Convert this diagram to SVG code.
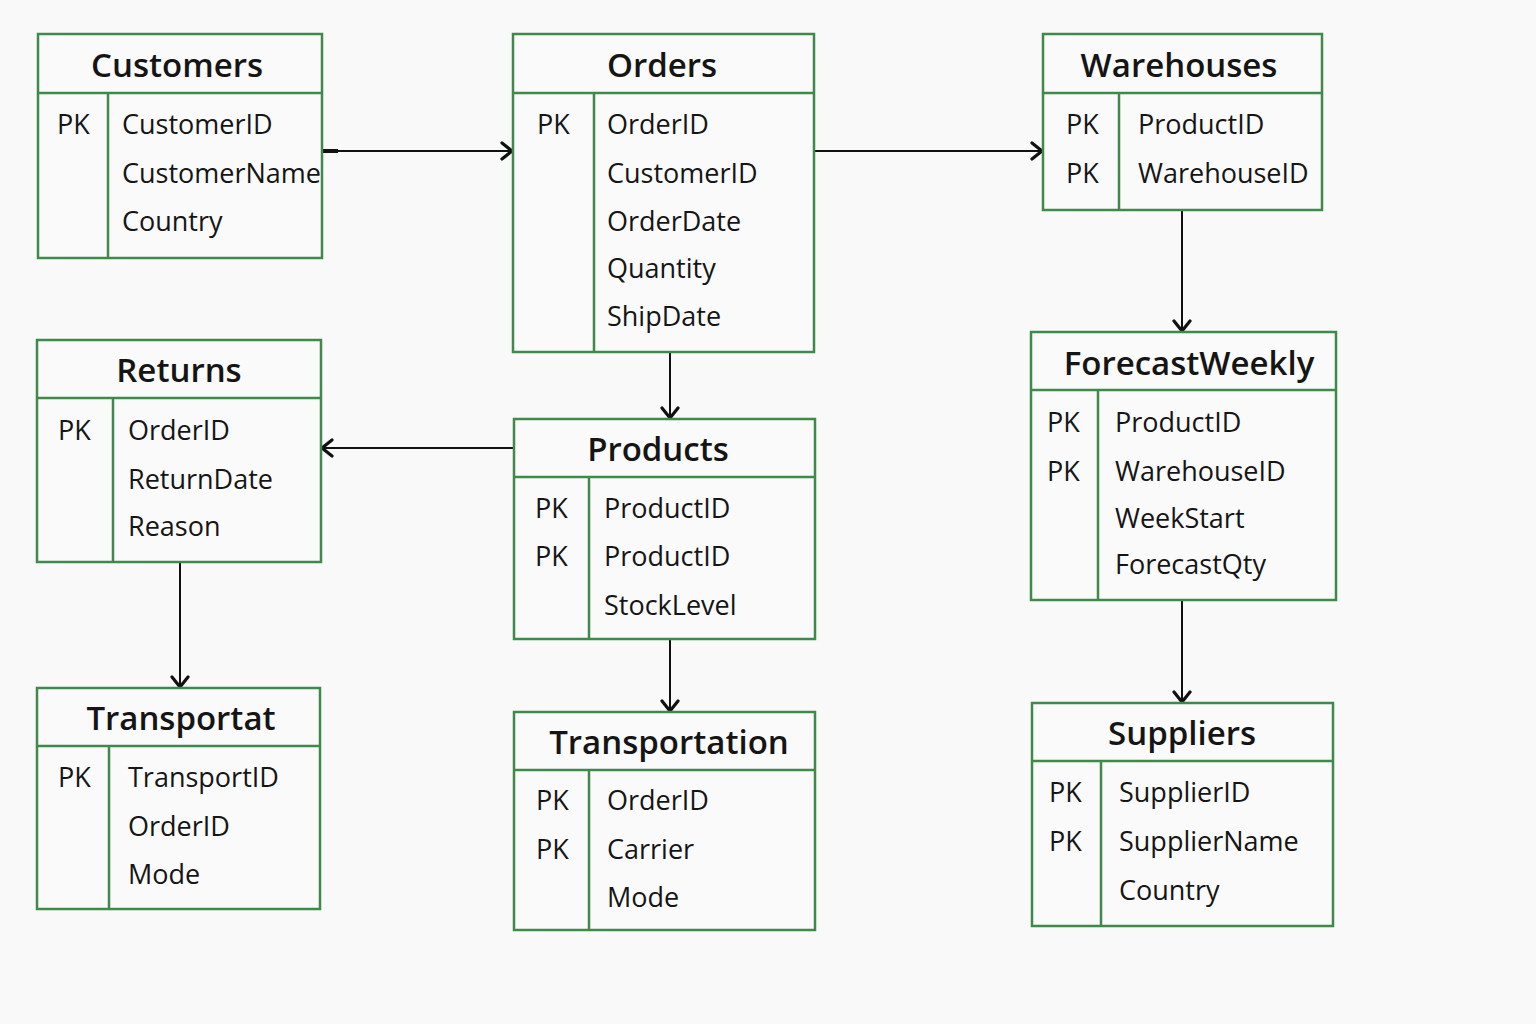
<svg xmlns="http://www.w3.org/2000/svg" width="1536" height="1024" viewBox="0 0 1536 1024">
<defs>
<marker id="arr" viewBox="0 0 14 20" refX="12" refY="10" markerWidth="14" markerHeight="20" markerUnits="userSpaceOnUse" orient="auto">
<path d="M2,2 L12,10 L2,18" fill="none" stroke="#111" stroke-width="3.2" stroke-linecap="round" stroke-linejoin="round"/>
</marker>
</defs>
<style>
.box{fill:#fafafa;stroke:#3f8a4a;stroke-width:2.5}
.ln{stroke:#3f8a4a;stroke-width:2.5}
.t{font-family:"Open Sans","Noto Sans",sans-serif;font-size:33px;font-weight:600;fill:#151515;text-anchor:middle}
.f{font-family:"Open Sans","Noto Sans",sans-serif;font-size:27px;fill:#151515}
.c{stroke:#111;stroke-width:2;fill:none;marker-end:url(#arr)}
</style>
<rect width="1536" height="1024" fill="#f9f9f9"/>
<g id="connectors">
<path class="c" d="M322,151 L512,151"/>
<path d="M322,151 L338,151" stroke="#111" stroke-width="4"/>
<path class="c" d="M814,151 L1042,151"/>
<path class="c" d="M1182,210 L1182,331"/>
<path class="c" d="M670,352 L670,418"/>
<path class="c" d="M514,448 L322,448"/>
<path class="c" d="M180,562 L180,687"/>
<path class="c" d="M670,639 L670,711"/>
<path class="c" d="M1182,600 L1182,702"/>
</g>
<g id="customers">
<rect class="box" x="38" y="34" width="284" height="224"/>
<line class="ln" x1="38" y1="93" x2="322" y2="93"/>
<line class="ln" x1="108" y1="93" x2="108" y2="258"/>
<text class="t" x="177" y="77">Customers</text>
<text class="f" x="57" y="134">PK</text>
<text class="f" x="122" y="134">CustomerID</text>
<text class="f" x="122" y="183">CustomerName</text>
<text class="f" x="122" y="231">Country</text>
</g>
<g id="orders">
<rect class="box" x="513" y="34" width="301" height="318"/>
<line class="ln" x1="513" y1="93" x2="814" y2="93"/>
<line class="ln" x1="594" y1="93" x2="594" y2="352"/>
<text class="t" x="662" y="77">Orders</text>
<text class="f" x="537" y="134">PK</text>
<text class="f" x="607" y="134">OrderID</text>
<text class="f" x="607" y="183">CustomerID</text>
<text class="f" x="607" y="231">OrderDate</text>
<text class="f" x="607" y="278">Quantity</text>
<text class="f" x="607" y="326">ShipDate</text>
</g>
<g id="warehouses">
<rect class="box" x="1043" y="34" width="279" height="176"/>
<line class="ln" x1="1043" y1="93" x2="1322" y2="93"/>
<line class="ln" x1="1119" y1="93" x2="1119" y2="210"/>
<text class="t" x="1179" y="77">Warehouses</text>
<text class="f" x="1066" y="134">PK</text>
<text class="f" x="1066" y="183">PK</text>
<text class="f" x="1138" y="134">ProductID</text>
<text class="f" x="1138" y="183">WarehouseID</text>
</g>
<g id="forecastweekly">
<rect class="box" x="1031" y="332" width="305" height="268"/>
<line class="ln" x1="1031" y1="390" x2="1336" y2="390"/>
<line class="ln" x1="1098" y1="390" x2="1098" y2="600"/>
<text class="t" x="1189" y="375">ForecastWeekly</text>
<text class="f" x="1047" y="432">PK</text>
<text class="f" x="1047" y="481">PK</text>
<text class="f" x="1115" y="432">ProductID</text>
<text class="f" x="1115" y="481">WarehouseID</text>
<text class="f" x="1115" y="528">WeekStart</text>
<text class="f" x="1115" y="574">ForecastQty</text>
</g>
<g id="returns">
<rect class="box" x="37" y="340" width="284" height="222"/>
<line class="ln" x1="37" y1="398" x2="321" y2="398"/>
<line class="ln" x1="113" y1="398" x2="113" y2="562"/>
<text class="t" x="179" y="382">Returns</text>
<text class="f" x="58" y="440">PK</text>
<text class="f" x="128" y="440">OrderID</text>
<text class="f" x="128" y="489">ReturnDate</text>
<text class="f" x="128" y="536">Reason</text>
</g>
<g id="products">
<rect class="box" x="514" y="419" width="301" height="220"/>
<line class="ln" x1="514" y1="477" x2="815" y2="477"/>
<line class="ln" x1="589" y1="477" x2="589" y2="639"/>
<text class="t" x="658" y="461">Products</text>
<text class="f" x="535" y="518">PK</text>
<text class="f" x="535" y="566">PK</text>
<text class="f" x="604" y="518">ProductID</text>
<text class="f" x="604" y="566">ProductID</text>
<text class="f" x="604" y="615">StockLevel</text>
</g>
<g id="transportat">
<rect class="box" x="37" y="688" width="283" height="221"/>
<line class="ln" x1="37" y1="746" x2="320" y2="746"/>
<line class="ln" x1="109" y1="746" x2="109" y2="909"/>
<text class="t" x="181" y="730">Transportat</text>
<text class="f" x="58" y="787">PK</text>
<text class="f" x="128" y="787">TransportID</text>
<text class="f" x="128" y="836">OrderID</text>
<text class="f" x="128" y="884">Mode</text>
</g>
<g id="transportation">
<rect class="box" x="514" y="712" width="301" height="218"/>
<line class="ln" x1="514" y1="770" x2="815" y2="770"/>
<line class="ln" x1="589" y1="770" x2="589" y2="930"/>
<text class="t" x="669" y="754">Transportation</text>
<text class="f" x="536" y="810">PK</text>
<text class="f" x="536" y="859">PK</text>
<text class="f" x="607" y="810">OrderID</text>
<text class="f" x="607" y="859">Carrier</text>
<text class="f" x="607" y="907">Mode</text>
</g>
<g id="suppliers">
<rect class="box" x="1032" y="703" width="301" height="223"/>
<line class="ln" x1="1032" y1="761" x2="1333" y2="761"/>
<line class="ln" x1="1101" y1="761" x2="1101" y2="926"/>
<text class="t" x="1182" y="745">Suppliers</text>
<text class="f" x="1049" y="802">PK</text>
<text class="f" x="1049" y="851">PK</text>
<text class="f" x="1119" y="802">SupplierID</text>
<text class="f" x="1119" y="851">SupplierName</text>
<text class="f" x="1119" y="900">Country</text>
</g>
</svg>
